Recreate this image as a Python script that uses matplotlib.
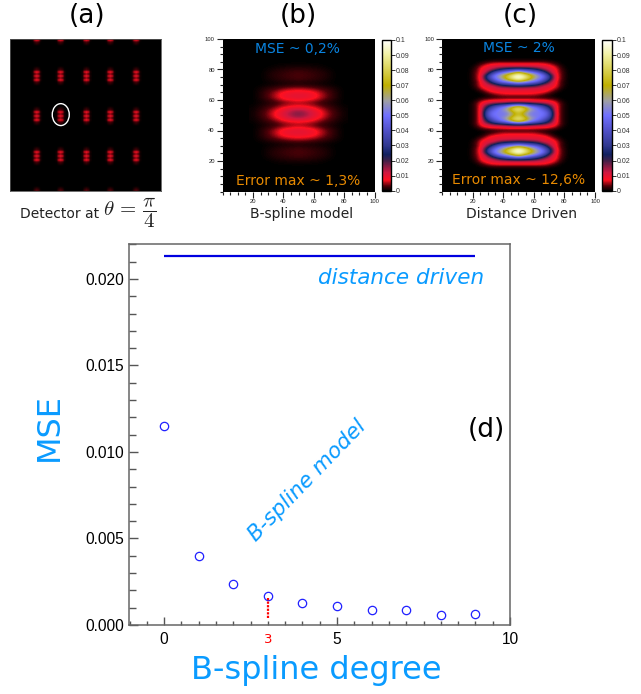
import numpy as np
import matplotlib
matplotlib.use('Agg')
import matplotlib.pyplot as plt
from matplotlib.colors import LinearSegmentedColormap
from matplotlib.patches import Ellipse
from matplotlib.ticker import MultipleLocator

plt.rcParams['mathtext.fontset'] = 'cm'

W, H = 641, 694

# panel d values
degrees = [0, 1, 2, 3, 4, 5, 6, 7, 8, 9]
mse_bspline = [0.0115, 0.00397, 0.00235, 0.00169, 0.00125, 0.00112, 0.00089, 0.00087, 0.0006, 0.00062]
mse_distance_driven = [0.0213, 0.0213]
distance_driven_range = [0, 9]
chosen_degree = [3, 3]
chosen_range = [0.00043, 0.00164]

# colour scale
cmap_stops = [0, 0.003, 0.007, 0.012, 0.02, 0.024, 0.03, 0.04, 0.05, 0.06, 0.07, 0.08, 0.09, 0.1]
cmap_colors = ['#000000', '#500008', '#ff1020', '#d01840', '#402048', '#102060', '#303890', '#5050c8',
               '#7070ff', '#a0a0a0', '#c0b000', '#d8d050', '#f0f0a0', '#ffffff']

# panel a: one spot, and the rows / columns where it repeats (2 px cells)
spot = [[0, 0, 0, 0, 0],
        [0, 0.0008, 0.0015, 0.0008, 0],
        [0.0002, 0.002, 0.003, 0.002, 0.0002],
        [0.001, 0.006, 0.008, 0.006, 0.001],
        [0.0006, 0.003, 0.0045, 0.003, 0.0006],
        [0.001, 0.006, 0.009, 0.006, 0.001],
        [0.0006, 0.003, 0.0045, 0.003, 0.0006],
        [0.001, 0.006, 0.008, 0.006, 0.001],
        [0.0002, 0.002, 0.003, 0.002, 0.0002],
        [0, 0.0008, 0.0015, 0.0008, 0],
        [0, 0, 0, 0, 0]]
spot_rows = [-2, 18, 38, 58, 78]
spot_cols = [13, 25, 38, 50, 63]

# panel b: left half of the map, y = 85 down to 16 in steps of 3, x = 20..50 in steps of 5
bspline_half = [[0, 0, 0, 0, 0, 0, 0],
                [0, 0, 0, 0.0003, 0.0005, 0.0006, 0.0006],
                [0, 0, 0.0006, 0.0012, 0.0016, 0.002, 0.0022],
                [0, 0, 0.001, 0.0016, 0.0022, 0.0026, 0.003],
                [0, 0, 0.0007, 0.0013, 0.0018, 0.0022, 0.0025],
                [0, 0, 0.0002, 0.0004, 0.0006, 0.0007, 0.0008],
                [0, 0.0008, 0.0018, 0.0028, 0.004, 0.005, 0.0055],
                [0, 0.0012, 0.003, 0.0055, 0.0085, 0.0095, 0.0098],
                [0, 0.0012, 0.003, 0.0055, 0.0085, 0.0098, 0.0105],
                [0, 0.0005, 0.001, 0.0018, 0.003, 0.004, 0.0045],
                [0.0003, 0.0012, 0.0025, 0.004, 0.0065, 0.0075, 0.008],
                [0.0005, 0.002, 0.004, 0.0075, 0.0105, 0.0145, 0.017],
                [0.0005, 0.002, 0.004, 0.0075, 0.0105, 0.0145, 0.017],
                [0.0003, 0.0012, 0.0025, 0.004, 0.0065, 0.0075, 0.008],
                [0, 0.0005, 0.001, 0.0018, 0.003, 0.004, 0.0045],
                [0, 0.0012, 0.003, 0.0055, 0.0085, 0.0098, 0.0105],
                [0, 0.0012, 0.003, 0.0055, 0.0085, 0.0095, 0.0098],
                [0, 0.0008, 0.0018, 0.0028, 0.004, 0.005, 0.0055],
                [0, 0, 0.0002, 0.0004, 0.0006, 0.0007, 0.0008],
                [0, 0, 0.0007, 0.0013, 0.0018, 0.0022, 0.0025],
                [0, 0, 0.001, 0.0016, 0.0022, 0.0026, 0.003],
                [0, 0, 0.0006, 0.0012, 0.0016, 0.002, 0.0022],
                [0, 0, 0, 0.0003, 0.0005, 0.0006, 0.0006],
                [0, 0, 0, 0, 0, 0, 0]]

# panel c: top left quarter, y = 88 down to 52 in steps of 2, x = 18..50 in steps of 4
driven_quarter = [[0, 0, 0, 0, 0, 0, 0, 0, 0],
                  [0, 0, 0, 0.0004, 0.001, 0.001, 0.001, 0.001, 0.001],
                  [0, 0, 0.002, 0.005, 0.0065, 0.007, 0.007, 0.007, 0.007],
                  [0, 0.001, 0.006, 0.009, 0.011, 0.012, 0.012, 0.012, 0.012],
                  [0, 0.002, 0.008, 0.012, 0.016, 0.024, 0.03, 0.034, 0.036],
                  [0, 0.003, 0.008, 0.016, 0.035, 0.048, 0.055, 0.065, 0.08],
                  [0, 0.003, 0.009, 0.03, 0.05, 0.06, 0.075, 0.09, 0.1],
                  [0, 0.003, 0.009, 0.028, 0.046, 0.056, 0.07, 0.085, 0.096],
                  [0, 0.002, 0.008, 0.016, 0.032, 0.045, 0.05, 0.058, 0.065],
                  [0, 0.002, 0.008, 0.012, 0.014, 0.022, 0.026, 0.028, 0.03],
                  [0, 0.001, 0.006, 0.009, 0.01, 0.012, 0.012, 0.013, 0.013],
                  [0, 0, 0.002, 0.006, 0.009, 0.009, 0.009, 0.009, 0.009],
                  [0, 0, 0, 0.002, 0.004, 0.006, 0.007, 0.007, 0.007],
                  [0, 0, 0.0003, 0.0008, 0.0015, 0.002, 0.002, 0.002, 0.002],
                  [0, 0.0005, 0.004, 0.006, 0.007, 0.007, 0.008, 0.008, 0.008],
                  [0, 0.002, 0.008, 0.012, 0.015, 0.016, 0.018, 0.02, 0.02],
                  [0, 0.002, 0.009, 0.022, 0.034, 0.044, 0.05, 0.065, 0.075],
                  [0, 0.002, 0.009, 0.032, 0.044, 0.052, 0.06, 0.08, 0.088],
                  [0, 0.002, 0.009, 0.04, 0.05, 0.052, 0.052, 0.065, 0.078]]

colorbar_ticks = [0, 0.01, 0.02, 0.03, 0.04, 0.05, 0.06, 0.07, 0.08, 0.09, 0.1]
colorbar_labels = ['0', '0.01', '0.02', '0.03', '0.04', '0.05', '0.06', '0.07', '0.08', '0.09', '0.1']

BLUE = '#0a9bff'
DARK_BLUE = '#0a84e0'
ORANGE = '#e88a00'


def px_axes(x0, y0, x1, y1):
    # pixel box of the reference -> figure axes
    return fig.add_axes([x0 / W, 1 - y1 / H, (x1 - x0) / W, (y1 - y0) / H])


def px_text(x, y, s, **kw):
    kw.setdefault('ha', 'center')
    kw.setdefault('va', 'center')
    fig.text(x / W, 1 - y / H, s, **kw)


def heatmap(box, cbox, values, extent):
    ax = px_axes(*box)
    ax.set_facecolor('black')
    im = ax.imshow(values, cmap=cmap, vmin=0, vmax=0.1, extent=extent, aspect='auto',
                   interpolation='bicubic', origin='upper')
    ax.set_xlim(0, 100)
    ax.set_ylim(0, 100)
    ax.xaxis.set_minor_locator(MultipleLocator(5))
    ax.yaxis.set_minor_locator(MultipleLocator(5))
    ax.set_xticks([20, 40, 60, 80, 100])
    ax.set_yticks([20, 40, 60, 80, 100])
    ax.tick_params(which='major', length=4, width=0.8, labelsize=4.2, pad=1.5, colors='#222222')
    ax.tick_params(which='minor', length=2.5, width=0.8, colors='#222222')
    for s in ax.spines.values():
        s.set_visible(False)
    for lab in ax.get_xticklabels() + ax.get_yticklabels():
        lab.set_family('Liberation Sans')

    cax = px_axes(*cbox)
    cb = fig.colorbar(im, cax=cax)
    cb.set_ticks(colorbar_ticks, labels=colorbar_labels)
    cb.ax.tick_params(length=3, width=0.7, labelsize=5, pad=0.5, colors='#333333')
    cb.outline.set_linewidth(1.0)
    for lab in cb.ax.get_yticklabels():
        lab.set_family('Liberation Sans')
    return ax


fig = plt.figure(figsize=(W / 100, H / 100), dpi=100)
cmap = LinearSegmentedColormap.from_list('err', [(s / 0.1, c) for s, c in zip(cmap_stops, cmap_colors)], N=512)

# (a)
detector = np.zeros((76, 76))
spot_arr = np.array(spot)
for r in spot_rows:
    for c in spot_cols:
        for i in range(spot_arr.shape[0]):
            for j in range(spot_arr.shape[1]):
                ii, jj = r + i - 5, c + j - 2
                if 0 <= ii < 76 and 0 <= jj < 76:
                    detector[ii, jj] = spot_arr[i, j]
ax_a = px_axes(10.3, 39.3, 160.7, 190.7)
ax_a.imshow(detector, cmap=cmap, vmin=0, vmax=0.1, aspect='auto', interpolation='bilinear')
ax_a.set_xticks([])
ax_a.set_yticks([])
for s in ax_a.spines.values():
    s.set_color('#555555')
    s.set_linewidth(0.6)
# ellipse position in data cells of the detector grid
ax_a.add_patch(Ellipse((25, 37.3), 8.6, 11, fill=False, ec='white', lw=1.0))

# (b) and (c)
bspline_map = np.hstack([np.array(bspline_half), np.array(bspline_half)[:, -2::-1]])
heatmap((222.5, 39, 374.7, 191.5), (382.3, 40, 391, 190.7), bspline_map, (17.5, 82.5, 14.5, 86.5))

driven_half = np.array(driven_quarter)
driven_half = np.vstack([driven_half, driven_half[::-1]])
driven_map = np.hstack([driven_half, driven_half[:, -2::-1]])
heatmap((441.9, 39, 595, 191.5), (602.3, 40, 611.7, 190.7), driven_map, (16, 84, 13, 89))

# (d)
ax = px_axes(128.5, 244, 510, 625)
ax.plot(distance_driven_range, mse_distance_driven, color='#0000e0', lw=1.6, solid_capstyle='butt')
ax.plot(degrees, mse_bspline, 'o', mfc='none', mec='#2020ff', ms=6, mew=0.9, clip_on=False)
ax.plot(chosen_degree, chosen_range, color='red', ls=(0, (1, 0.6)), lw=1.6)
ax.set_xlim(-1.03, 10)
ax.set_ylim(0, 0.02202)
ax.set_xticks([0, 5, 10])
ax.set_yticks([0, 0.005, 0.01, 0.015, 0.02])
ax.set_yticklabels(['0.000', '0.005', '0.010', '0.015', '0.020'])
ax.xaxis.set_minor_locator(MultipleLocator(0.5))
ax.yaxis.set_minor_locator(MultipleLocator(0.001))
ax.tick_params(which='major', direction='in', width=1, color='#555555', labelsize=11.2, pad=3)
ax.tick_params(axis='y', which='major', length=6.5)
ax.tick_params(axis='x', which='major', length=6, pad=5)
ax.tick_params(axis='y', which='minor', direction='in', length=4.8, width=1, color='#555555')
ax.tick_params(axis='x', which='minor', direction='in', length=3, width=1, color='#555555')
for lab in ax.get_xticklabels() + ax.get_yticklabels():
    lab.set_family('Liberation Sans')
for s in ax.spines.values():
    s.set_color('#666666')
    s.set_linewidth(1.1)
ax.text(3, -0.00085, '3', color='red', fontsize=9.5, ha='center', va='center')

# text outside and inside the panels
px_text(87, 16, '(a)', fontsize=19)
px_text(298, 16, '(b)', fontsize=19)
px_text(520, 16, '(c)', fontsize=19)
px_text(486, 430, '(d)', fontsize=19)

px_text(60, 214, 'Detector at', fontsize=10, color='#222222')
px_text(130, 213, r'$\theta\,=\,\dfrac{\pi}{4}$', fontsize=15, color='#222222')
px_text(302, 214, 'B-spline model', fontsize=10, color='#222222')
px_text(522, 214, 'Distance Driven', fontsize=10, color='#222222')

px_text(297, 49, 'MSE ~ 0,2%', fontsize=10, color=DARK_BLUE)
px_text(298, 181, 'Error max ~ 1,3%', fontsize=10, color=ORANGE)
px_text(519, 48, 'MSE ~ 2%', fontsize=10, color=DARK_BLUE)
px_text(519, 180, 'Error max ~ 12,6%', fontsize=10, color=ORANGE)

px_text(49, 427, 'MSE', fontsize=23, color=BLUE, rotation=90)
px_text(316, 671, 'B-spline degree', fontsize=23, color=BLUE)
px_text(401, 278, 'distance driven', fontsize=15.5, color=BLUE, style='italic')
px_text(307, 481, 'B-spline model', fontsize=15.5, color=BLUE, style='italic', rotation=46,
        rotation_mode='anchor')

fig.savefig('out.png', dpi=100)
